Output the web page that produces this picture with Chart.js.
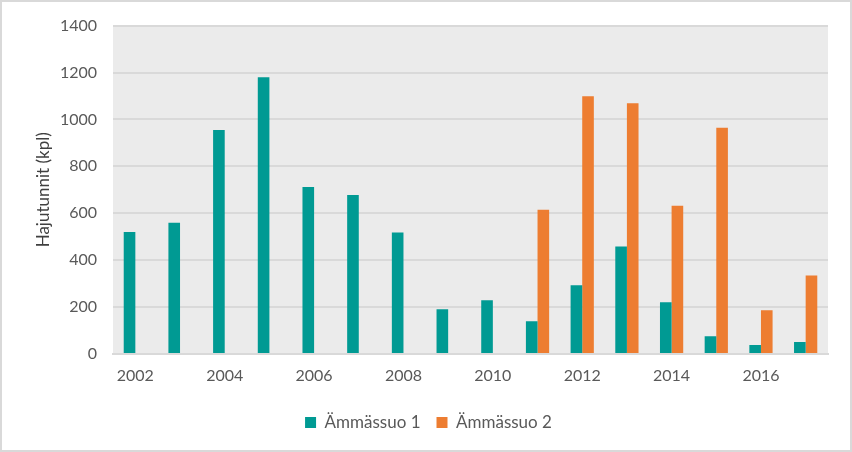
<!DOCTYPE html>
<html>
<head>
<meta charset="utf-8">
<script src="https://cdn.jsdelivr.net/npm/chart.js@4.4.1/dist/chart.umd.min.js"></script>
<style>
  html, body { margin: 0; padding: 0; background: #ffffff; }
  #wrap { width: 852px; height: 452px; }
</style>
</head>
<body>
<div id="wrap"><canvas id="chart" width="852" height="452"></canvas></div>
<script>
// Data
const years = ['2002','2003','2004','2005','2006','2007','2008','2009','2010','2011','2012','2013','2014','2015','2016','2017'];
const ammassuo1 = [520, 560, 955, 1180, 712, 678, 518, 191, 229, 140, 293, 458, 221, 76, 38, 51];
const ammassuo2 = [null, null, null, null, null, null, null, null, null, 615, 1099, 1069, 632, 965, 187, 335];
const yTicks = [0, 200, 400, 600, 800, 1000, 1200, 1400];

// Gray plot area + outer frame
const backdrop = {
  id: 'backdrop',
  beforeDraw(chart) {
    const ctx = chart.ctx;
    const a = chart.chartArea;
    ctx.save();
    ctx.fillStyle = '#ebebeb';
    ctx.fillRect(a.left, a.top, a.right - a.left, a.bottom - a.top);
    ctx.strokeStyle = '#d9d9d9';
    ctx.lineWidth = 2;
    ctx.strokeRect(1, 1, chart.width - 2, chart.height - 2);
    ctx.restore();
  }
};

const tickFont = { family: 'Lato, "Open Sans", sans-serif', size: 16 };
const bigFont = { family: 'Lato, "Open Sans", sans-serif', size: 17 };

const config = {
  type: 'bar',
  data: {
    labels: years,
    datasets: [
      { label: 'Ämmässuo 1', data: ammassuo1, backgroundColor: '#009a93' },
      { label: 'Ämmässuo 2', data: ammassuo2, backgroundColor: '#ed7d31' }
    ]
  },
  options: {
    responsive: false,
    animation: false,
    categoryPercentage: 0.52,
    barPercentage: 1,
    layout: { padding: { top: 13, right: 24, left: 29, bottom: 11 } },
    scales: {
      x: {
        grid: { display: false, drawTicks: false },
        border: { color: '#d9d9d9', width: 2 },
        ticks: {
          autoSkip: false,
          maxRotation: 0,
          color: '#595959',
          font: tickFont,
          padding: 12,
          callback: function(v, i) { return i % 2 === 0 ? years[i] : ''; }
        },
        afterFit(scale) { scale.height = 44; }
      },
      y: {
        min: 0,
        max: 1400,
        afterBuildTicks(scale) { scale.ticks = yTicks.map(v => ({ value: v })); },
        grid: { color: '#d9d9d9', lineWidth: 2, drawTicks: false },
        border: { display: false },
        ticks: {
          color: '#595959',
          font: tickFont,
          padding: 16,
          callback: function(v) { return String(v); }
        },
        title: {
          display: true,
          text: 'Hajutunnit (kpl)',
          color: '#404040',
          font: bigFont,
          padding: { bottom: 10 }
        },
        afterFit(scale) { scale.width = 84; }
      }
    },
    plugins: {
      legend: {
        position: 'bottom',
        labels: {
          color: '#595959',
          font: bigFont,
          boxWidth: 11,
          boxHeight: 11,
          padding: 16
        }
      },
      tooltip: { enabled: false }
    }
  },
  plugins: [backdrop]
};

new Chart(document.getElementById('chart'), config);
</script>
</body>
</html>
